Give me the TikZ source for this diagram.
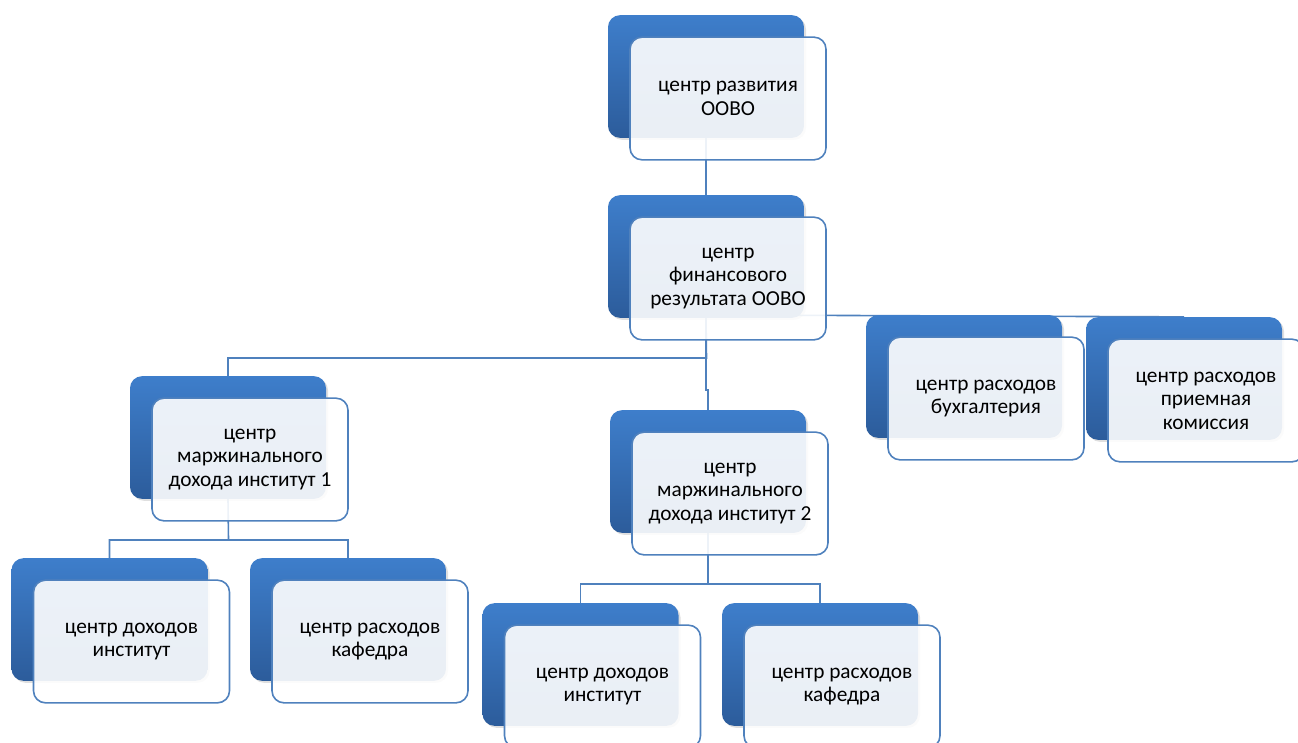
\documentclass[tikz,border=0pt]{standalone}
\usepackage{fontspec}
\setmainfont{Carlito}
\usetikzlibrary{positioning, shadows, backgrounds}
\definecolor{unitBlue}{RGB}{79, 129, 189}
\definecolor{unitTop}{RGB}{62, 126, 203}
\definecolor{unitBottom}{RGB}{44, 92, 155}
\tikzset{
    backbox/.style={rounded corners=9pt, minimum width=147pt, minimum height=92pt, top color=unitTop, bottom color=unitBottom, draw=none, drop shadow={opacity=0.25, shadow xshift=1.5pt, shadow yshift=-1.5pt}},
    frontbox/.style={rounded corners=9pt, minimum width=147pt, minimum height=92pt, draw=unitBlue, line width=1.2pt, fill=white, fill opacity=0.9, text opacity=1, align=center, font=\fontsize{16}{17.6}\selectfont},
    link/.style={draw=unitBlue, line width=1.2pt}
}
\begin{document}
\begin{tikzpicture}[x=0.75pt, y=-0.75pt]
                    \useasboundingbox (0,0) rectangle (1298,742);

                    % Top levels
                    \node[backbox] (razvb) at ([shift={(-22,-22)}]728,98.5) {};
                    \node[frontbox] (razv) at (728,98.5) {центр развития\\ООВО};
                    \node[backbox] (finb) at ([shift={(-22,-22)}]728,278.5) {};
                    \node[frontbox] (fin) at (728,278.5) {центр\\финансового\\результата ООВО};

                    % Cost centres on the right
                    \node[backbox] (buhb) at ([shift={(-22,-22)}]986,398.5) {};
                    \node[frontbox] (buh) at (986,398.5) {центр расходов\\бухгалтерия};
                    \node[backbox] (komb) at ([shift={(-22,-22)}]1206,400.5) {};
                    \node[frontbox] (kom) at (1206,400.5) {центр расходов\\приемная\\комиссия};

                    % Institutes
                    \node[backbox] (inst1b) at ([shift={(-22,-22)}]250,459.5) {};
                    \node[frontbox] (inst1) at (250,459.5) {центр\\маржинального\\дохода институт 1};
                    \node[backbox] (inst2b) at ([shift={(-22,-22)}]730,493.5) {};
                    \node[frontbox] (inst2) at (730,493.5) {центр\\маржинального\\дохода институт 2};

                    % Lowest level
                    \node[backbox] (dox1b) at ([shift={(-22,-22)}]131.5,641.5) {};
                    \node[frontbox] (dox1) at (131.5,641.5) {центр доходов\\институт};
                    \node[backbox] (kaf1b) at ([shift={(-22,-22)}]370,641.5) {};
                    \node[frontbox] (kaf1) at (370,641.5) {центр расходов\\кафедра};
                    \node[backbox] (dox2b) at ([shift={(-22,-22)}]602.5,686.5) {};
                    \node[frontbox] (dox2) at (602.5,686.5) {центр доходов\\институт};
                    \node[backbox] (kaf2b) at ([shift={(-22,-22)}]842,686.5) {};
                    \node[frontbox] (kaf2) at (842,686.5) {центр расходов\\кафедра};

                    % Junctions of the connectors
                    \coordinate (finj) at (706.5,358);
                    \coordinate (inst1j) at (228.5,540);
                    \coordinate (inst2j) at (708,584);

                    \begin{scope}[on background layer]
                    \draw[link] (razvb.south) -- (finb.north);
                    \draw[link] (finb.south) -- (finj) -| (inst1b.north);
                    \draw[link] (finb.south) |- ([shift={(0,-20)}]inst2b.north) -- (inst2b.north);
                    \draw[link] (finb.center |- buhb.north) -- (komb.north);
                    \draw[link] (inst1b.south) -- (inst1j) -| (dox1b.north);
                    \draw[link] (inst1j) -| (kaf1b.north);
                    \draw[link] (inst2b.south) -- (inst2j) -| (dox2b.north);
                    \draw[link] (inst2j) -| (kaf2b.north);
                    \end{scope}
                \end{tikzpicture}
\end{document}
